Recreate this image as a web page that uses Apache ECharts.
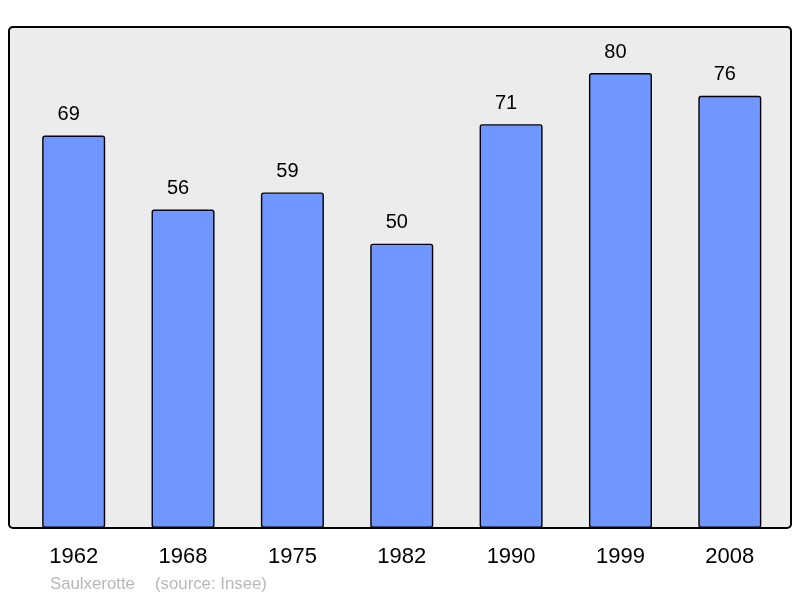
<!DOCTYPE html>
<html><head><meta charset="utf-8">
<script src="https://cdn.jsdelivr.net/npm/echarts@6/dist/echarts.min.js"></script>
<style>html,body{margin:0;padding:0;background:#fff}#c{width:800px;height:598px}</style>
</head><body><div id="c"></div>
<script>
const years = ['1962','1968','1975','1982','1990','1999','2008'];
const population = [69, 56, 59, 50, 71, 80, 76];
const footerName = 'Saulxerotte';
const footerSource = '(source: Insee)';

const FONT = '"Liberation Sans", Arial, sans-serif';
const chart = echarts.init(document.getElementById('c'), null, {renderer:'canvas'});
chart.setOption({
  animation:false,
  backgroundColor:'#ffffff',
  graphic:[
    {type:'rect', z:-10, shape:{x:9, y:27, width:782, height:501, r:4},
     style:{fill:'#ececec', stroke:'#000', lineWidth:2}},
    {type:'text', left:50, top:576, style:{text:footerName, fill:'#b8b8b8', font:'16.8px ' + FONT}},
    {type:'text', left:155, top:576, style:{text:footerSource, fill:'#b8b8b8', font:'16.8px ' + FONT}}
  ],
  grid:{left:19, right:15.5, top:27.5, bottom:70},
  xAxis:{type:'category', data:years,
    axisLine:{show:false}, axisTick:{show:false},
    axisLabel:{color:'#000', fontSize:22, fontFamily:FONT, margin:18}},
  yAxis:{type:'value', min:0, max:88, show:false, splitLine:{show:false}},
  series:[{type:'bar', data:population, barWidth:63,
    itemStyle:{color:'#7097ff', borderColor:'#000', borderWidth:1.4, borderRadius:2},
    label:{show:true, position:'top', distance:11, offset:[-5,0], color:'#000', fontSize:20, fontFamily:FONT}}]
});
</script></body></html>
